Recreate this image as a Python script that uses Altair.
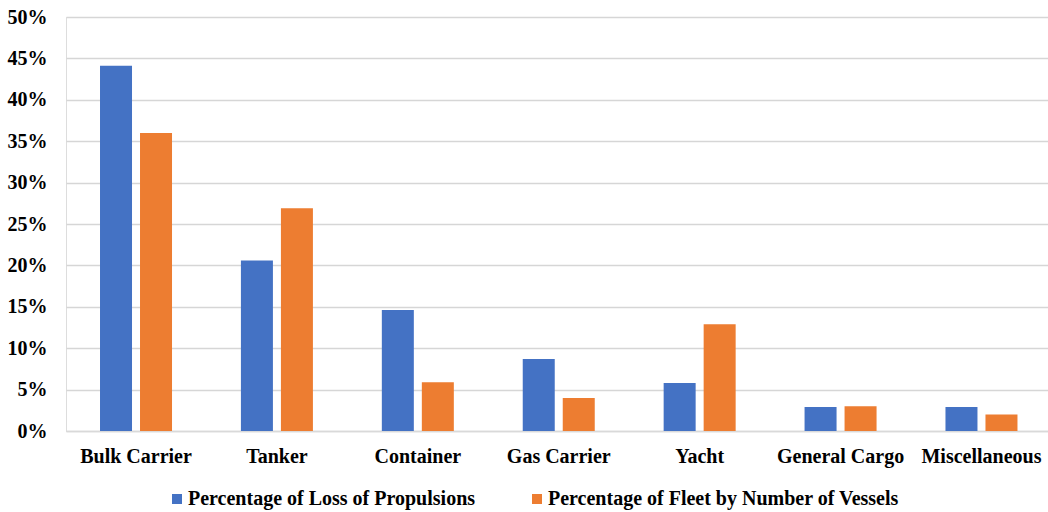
import altair as alt
import pandas as pd

# Vessel types on the x axis
categories = ["Bulk Carrier", "Tanker", "Container", "Gas Carrier",
              "Yacht", "General Cargo", "Miscellaneous"]

# Series names
series_names = ["Percentage of Loss of Propulsions",
                "Percentage of Fleet by Number of Vessels"]

# Values in percent
loss_pct = [44.1, 20.6, 14.6, 8.7, 5.8, 2.9, 2.9]
fleet_pct = [36.0, 26.9, 5.9, 4.0, 12.9, 3.0, 2.0]

colors = ["#4472C4", "#ED7D31"]

rows = []
for cat, a, b in zip(categories, loss_pct, fleet_pct):
    rows.append({"type": cat, "series": series_names[0], "value": a / 100})
    rows.append({"type": cat, "series": series_names[1], "value": b / 100})
df = pd.DataFrame(rows)

FONT = "Liberation Serif"

chart = (
    alt.Chart(df)
    .mark_bar()
    .encode(
        x=alt.X(
            "type:N",
            sort=categories,
            title=None,
            scale=alt.Scale(paddingInner=0.489, paddingOuter=0.229, align=0.527),
            axis=alt.Axis(
                labelAngle=0,
                labelFont=FONT,
                labelFontSize=20,
                labelFontWeight="bold",
                labelColor="#000000",
                labelPadding=15,
                ticks=False,
                domain=True,
                domainColor="#d9d9d9",
                domainWidth=1.5,
                grid=False,
            ),
        ),
        xOffset=alt.XOffset(
            "series:N",
            sort=series_names,
            scale=alt.Scale(paddingInner=0.2, paddingOuter=0),
        ),
        y=alt.Y(
            "value:Q",
            title=None,
            scale=alt.Scale(domain=[0, 0.5], nice=False),
            axis=alt.Axis(
                values=[i / 100 for i in range(0, 55, 5)],
                format=".0%",
                labelFont=FONT,
                labelFontSize=20,
                labelFontWeight="bold",
                labelColor="#000000",
                labelPadding=19,
                ticks=False,
                domain=False,
                gridColor="#d6d6d6",
                gridWidth=1.6,
            ),
        ),
        color=alt.Color(
            "series:N",
            sort=series_names,
            scale=alt.Scale(domain=series_names, range=colors),
            legend=alt.Legend(
                title=None,
                orient="none",
                direction="horizontal",
                legendX=101,
                legendY=472,
                symbolType="square",
                symbolSize=100,
                symbolStrokeWidth=0,
                symbolOpacity=1,
                labelFont=FONT,
                labelFontSize=20,
                labelFontWeight="bold",
                labelColor="#000000",
                labelOffset=1,
                columnPadding=51,
                labelLimit=500,
                padding=0,
            ),
        ),
    )
    .properties(
        width=982,
        height=414,
        autosize=alt.AutoSizeParams(type="none"),
        padding={"left": 66, "top": 17, "right": 0, "bottom": 81},
    )
    .configure_view(stroke=None)
    .configure(background="white")
)

chart.save("out.html", embed_options={"renderer": "svg", "actions": False})
